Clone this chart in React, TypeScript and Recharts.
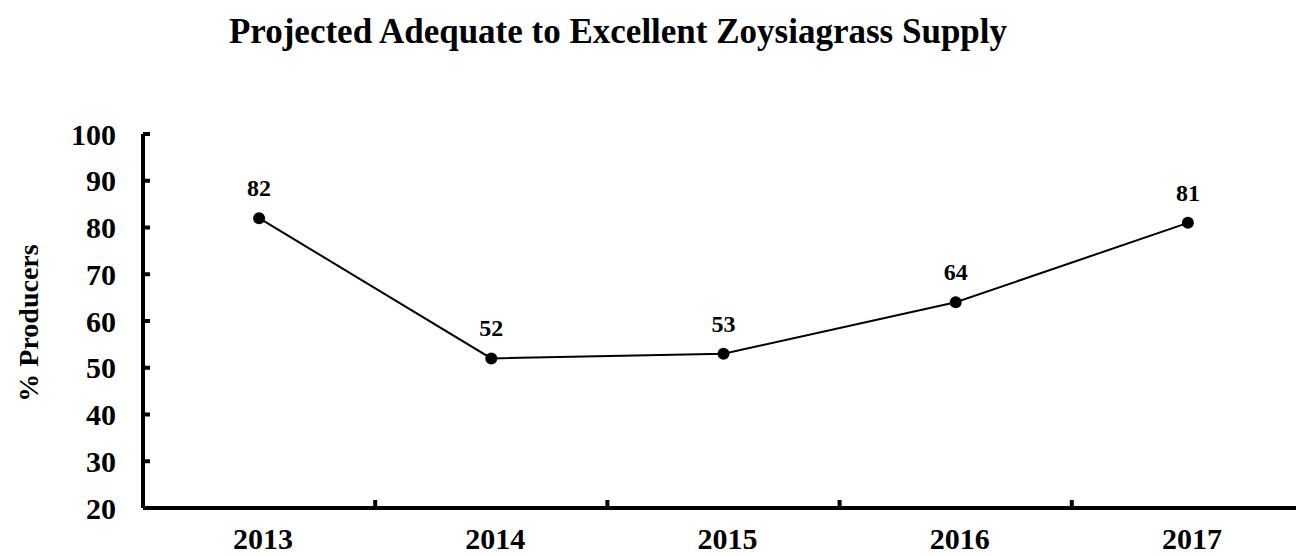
import React from 'react';
import { LineChart, Line, XAxis, YAxis, LabelList } from 'recharts';

const YEARS = ['2013', '2014', '2015', '2016', '2017'];
const PRODUCERS = [82, 52, 53, 64, 81];
const Y_TICKS = [20, 30, 40, 50, 60, 70, 80, 90, 100];

const TITLE = 'Projected Adequate to Excellent Zoysiagrass Supply';
const Y_LABEL = '% Producers';

const FONT = '"Liberation Serif", "Times New Roman", serif';
const CHART_W = 1304;
const CHART_H = 556;
const Y_AXIS_W = 143;
const BAND = (CHART_W - Y_AXIS_W) / YEARS.length;

const data = YEARS.map((year, i) => ({ year, value: PRODUCERS[i] }));

// category labels sit mid-band, tick marks go between categories (Excel style)
const YearTick = (props: any) => {
  const { x, y, payload, index } = props;
  return (
    <g>
      {index < YEARS.length - 1 && (
        <line x1={x + BAND / 2} y1={y} x2={x + BAND / 2} y2={y - 8} stroke="#000" strokeWidth={4} />
      )}
      <text x={x + 4} y={y + 41} textAnchor="middle" fill="#000" style={{ fontFamily: FONT, fontWeight: 700, fontSize: 30 }}>
        {payload.value}
      </text>
    </g>
  );
};

export default function App() {
  return (
    <div style={{ position: 'absolute', left: 0, top: 0, width: 1296, height: CHART_H, overflow: 'hidden', background: '#fff' }}>
      <div
        style={{
          position: 'absolute',
          top: 12,
          left: 0,
          width: 1236,
          textAlign: 'center',
          fontFamily: FONT,
          fontWeight: 700,
          fontSize: 35,
          color: '#000',
          whiteSpace: 'nowrap',
        }}
      >
        {TITLE}
      </div>
      <div
        style={{
          position: 'absolute',
          left: 29,
          top: 323,
          transform: 'translate(-50%, -50%) rotate(-90deg)',
          fontFamily: FONT,
          fontWeight: 700,
          fontSize: 28,
          color: '#000',
          whiteSpace: 'nowrap',
        }}
      >
        {Y_LABEL}
      </div>
      <LineChart width={CHART_W} height={CHART_H} data={data} margin={{ top: 134, right: 0, bottom: 0, left: 0 }}>
        <XAxis
          dataKey="year"
          scale="band"
          height={48}
          tickSize={0}
          tickMargin={0}
          tickLine={false}
          axisLine={{ stroke: '#000', strokeWidth: 4 }}
          tick={<YearTick />}
          interval={0}
        />
        <YAxis
          type="number"
          domain={[20, 100]}
          ticks={Y_TICKS}
          width={Y_AXIS_W}
          tickSize={-7}
          tickMargin={34}
          tickLine={{ stroke: '#000', strokeWidth: 4 }}
          axisLine={{ stroke: '#000', strokeWidth: 4 }}
          tick={{ fill: '#000', fontFamily: FONT, fontWeight: 700, fontSize: 30 }}
          interval={0}
        />
        <Line
          type="linear"
          dataKey="value"
          stroke="#000"
          strokeWidth={2}
          dot={{ r: 6, fill: '#000', stroke: '#000', strokeWidth: 0 }}
          isAnimationActive={false}
        >
          <LabelList dataKey="value" position="top" offset={22} style={{ fill: '#000', fontFamily: FONT, fontWeight: 700, fontSize: 24 }} />
        </Line>
      </LineChart>
    </div>
  );
}
